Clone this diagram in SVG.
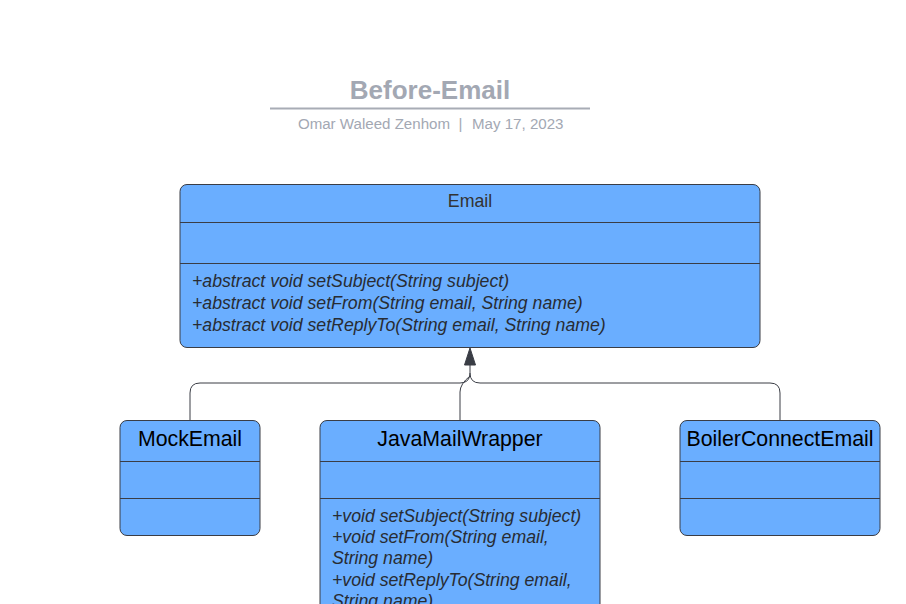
<svg xmlns="http://www.w3.org/2000/svg" width="906" height="604" viewBox="0 0 906 604">
<defs>
<style>
.box{fill:#6aaeff;stroke:#3a3d45;stroke-width:1}
.div{stroke:#3a3d45;stroke-width:1}
.name{font-family:"Liberation Sans",Arial,sans-serif;font-size:21.3px;fill:#000;text-anchor:middle}
.meth{font-family:"Liberation Sans",Arial,sans-serif;font-size:17.7px;font-style:italic;fill:#282c33}
.sub{font-family:"Liberation Sans",Arial,sans-serif;font-size:15.1px;fill:#a3a8b3}
.conn{fill:none;stroke:#3a3d45;stroke-width:1}
</style>
</defs>
<rect width="906" height="604" fill="#fff"/>
<g id="title">
<text x="430" y="99" font-family="Liberation Sans,Arial,sans-serif" font-size="26" font-weight="bold" fill="#a3a8b3" text-anchor="middle">Before-Email</text>
<line x1="270" y1="108.5" x2="590" y2="108.5" stroke="#a8acb5" stroke-width="2"/>
<text class="sub" x="450" y="129" text-anchor="end">Omar Waleed Zenhom</text>
<text class="sub" x="460.5" y="129" text-anchor="middle">|</text>
<text class="sub" x="472" y="129">May 17, 2023</text>
</g>
<g id="connectors">
<path class="conn" d="M190,420 V393 Q190,383 200,383 H460 Q470,383 470,373 V362"/>
<path class="conn" d="M780,420 V393 Q780,383 770,383 H480 Q470,383 470,373"/>
<path class="conn" d="M460,420 V392 Q460,384 470,376"/>
<path d="M470,348 L475.5,365 L464.5,365 Z" fill="#3a3d45" stroke="#3a3d45" stroke-width="1"/>
</g>
<g id="Email">
<rect class="box" x="180" y="184.5" width="580" height="163" rx="7"/>
<line class="div" x1="180" y1="222.5" x2="760" y2="222.5"/>
<line class="div" x1="180" y1="263.5" x2="760" y2="263.5"/>
<text x="470" y="207" font-family="Liberation Sans,Arial,sans-serif" font-size="17.8" fill="#333" text-anchor="middle">Email</text>
<text class="meth" x="192" y="287">+abstract void setSubject(String subject)</text>
<text class="meth" x="192" y="309">+abstract void setFrom(String email, String name)</text>
<text class="meth" x="192" y="331">+abstract void setReplyTo(String email, String name)</text>
</g>
<g id="MockEmail">
<rect class="box" x="120" y="420.5" width="140" height="115" rx="7"/>
<line class="div" x1="120" y1="461.5" x2="260" y2="461.5"/>
<line class="div" x1="120" y1="498.5" x2="260" y2="498.5"/>
<text class="name" x="190" y="446">MockEmail</text>
</g>
<g id="JavaMailWrapper">
<rect class="box" x="320" y="420.5" width="280" height="200" rx="7"/>
<line class="div" x1="320" y1="461.5" x2="600" y2="461.5"/>
<line class="div" x1="320" y1="498.5" x2="600" y2="498.5"/>
<text class="name" x="460" y="446">JavaMailWrapper</text>
<text class="meth" x="332" y="522">+void setSubject(String subject)</text>
<text class="meth" x="332" y="543">+void setFrom(String email,</text>
<text class="meth" x="332" y="564">String name)</text>
<text class="meth" x="332" y="586">+void setReplyTo(String email,</text>
<text class="meth" x="332" y="607">String name)</text>
</g>
<g id="BoilerConnectEmail">
<rect class="box" x="680" y="420.5" width="200" height="115" rx="7"/>
<line class="div" x1="680" y1="461.5" x2="880" y2="461.5"/>
<line class="div" x1="680" y1="498.5" x2="880" y2="498.5"/>
<text class="name" x="780" y="446">BoilerConnectEmail</text>
</g>
</svg>
